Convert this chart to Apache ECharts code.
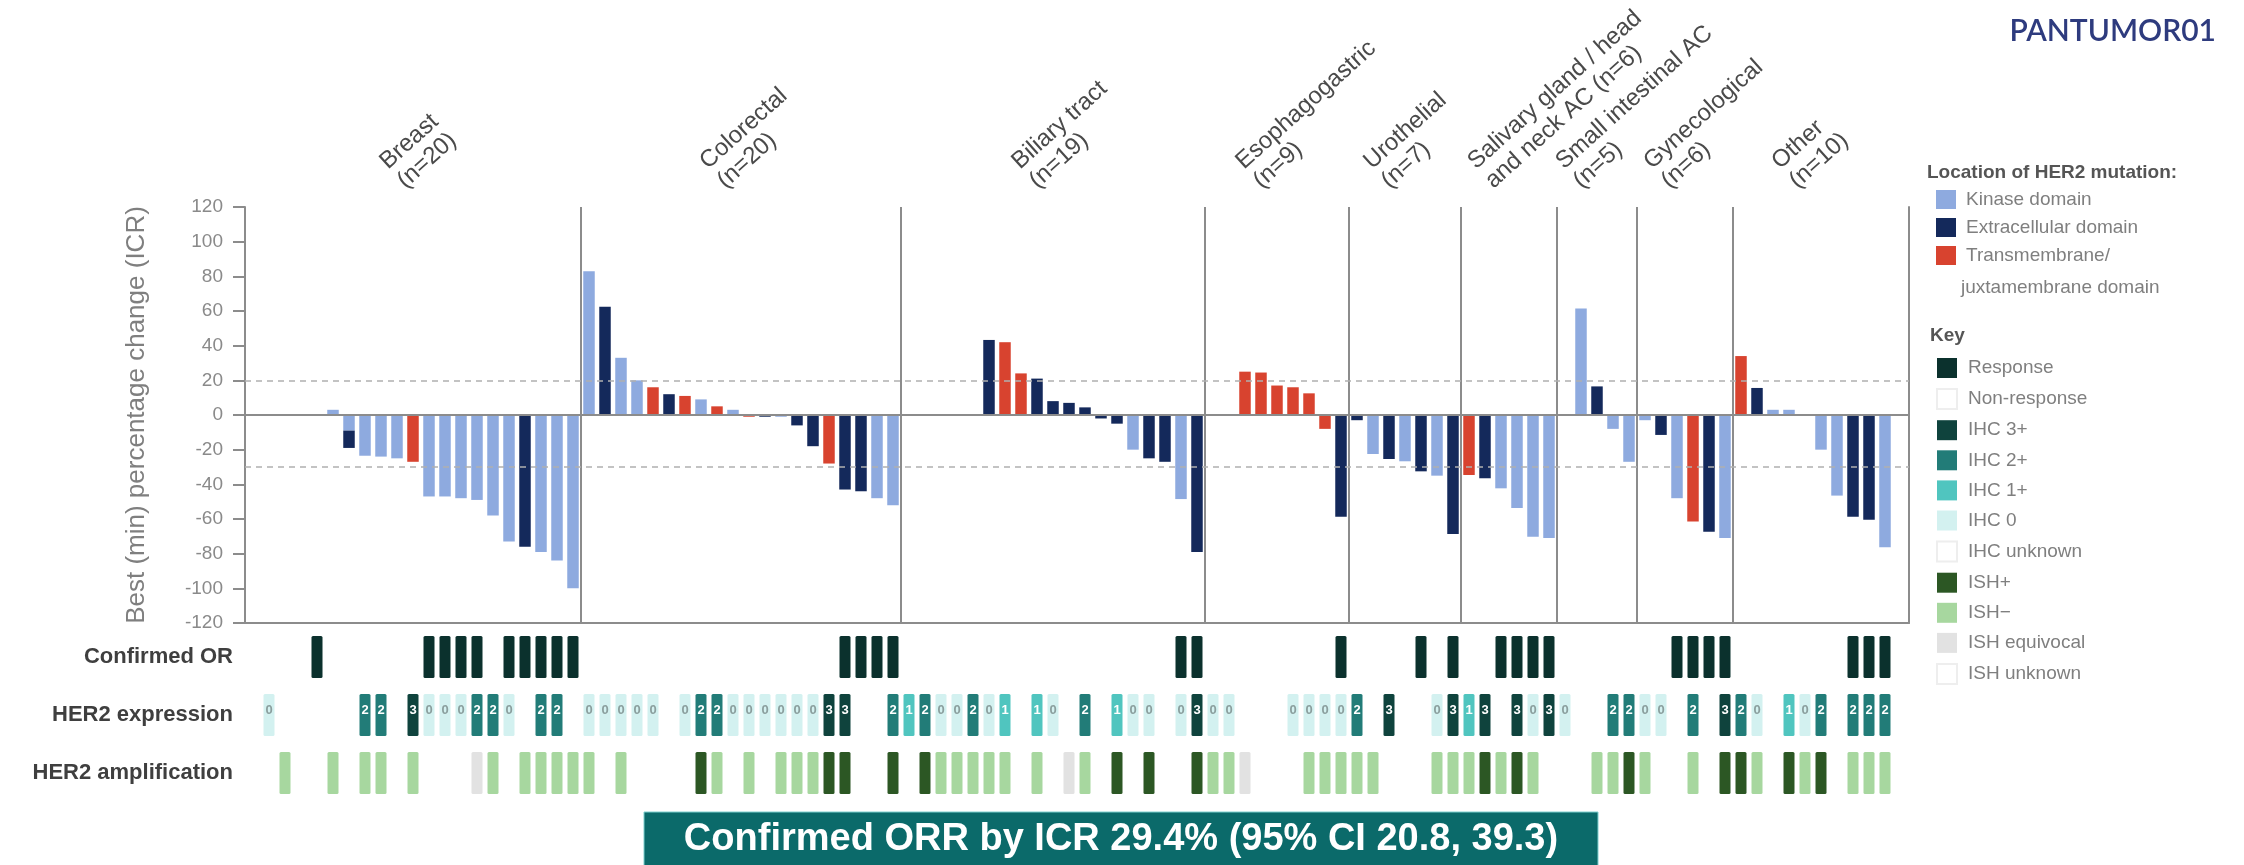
<!DOCTYPE html>
<html>
<head>
<meta charset="utf-8">
<script src="https://cdn.jsdelivr.net/npm/echarts@6/dist/echarts.min.js"></script>
<style>
  html, body { margin: 0; padding: 0; background: #ffffff; }
  #chart { width: 2244px; height: 865px; }
</style>
</head>
<body>
<div id="chart"></div>
<script>
const _ = null;

// Tumour groups, in display order
const groupNames = ['Breast', 'Colorectal', 'Biliary tract', 'Esophagogastric', 'Urothelial',
  'Salivary gland / head\nand neck AC', 'Small intestinal AC', 'Gynecological', 'Other'];
const groupSizes = [20, 20, 19, 9, 7, 6, 5, 6, 10];

// Best (min) percentage change from baseline, split by location of the HER2 mutation
const kinase = [
  _, _, _, _, 3, -9, -23.5, -24, -25, _, -47, -47, -48, -49, -58, -73, _, -79, -84, -100,   // Breast
  83, _, 33, 20, _, _, _, 9, _, 3, _, _, -1, _, _, _, _, _, -48, -52,                         // Colorectal
  _, _, _, _, _, _, _, _, _, _, _, _, _, _, -20, _, _, -48.5, _,                               // Biliary tract
  _, _, _, _, _, _, _, _, _,                                                                    // Esophagogastric
  _, -22.5, _, -26.7, _, -35, _,                                                                // Urothelial
  _, _, -42.3, -53.7, -70.2, -71,                                                               // Salivary gland / H&N
  _, 61.5, _, -8, -27,                                                                          // Small intestinal
  -3, _, -48, _, _, -71,                                                                        // Gynecological
  _, _, 3, 3, _, -20, -46.5, _, _, -76.3                                                        // Other
];
const extracellular = [
  _, _, _, _, _, -10, _, _, _, _, _, _, _, _, _, _, -76, _, _, _,
  _, 62.5, _, _, _, 12, _, _, _, _, _, -1, _, -6, -18, _, -43, -44, _, _,
  _, _, _, _, _, 43.3, _, _, 21, 8, 7, 4.4, -2, -5, _, -25, -27, _, -79,
  _, _, _, _, _, _, _, _, -58.7,
  -3, _, -25.4, _, -32.5, _, -68.7,
  _, -36.5, _, _, _, _,
  _, _, 16.5, _, _,
  _, -11.5, _, _, -67.3, _,
  _, 15.6, _, _, _, _, _, -58.7, -60.4, _
];
const transmembrane = [
  _, _, _, _, _, _, _, _, _, -27, _, _, _, _, _, _, _, _, _, _,
  _, _, _, _, 16, _, 11, _, 5, _, -1, _, _, _, _, -28, _, _, _, _,
  _, _, _, _, _, _, 42, 24, _, _, _, _, _, _, _, _, _, _, _,
  _, _, 25, 24.5, 17, 16, 12.5, -8, _,
  _, _, _, _, _, _, _,
  -34.6, _, _, _, _, _,
  _, _, _, _, _,
  _, _, _, -61.5, _, _,
  34, _, _, _, _, _, _, _, _, _
];

// Confirmed objective response (1 = response, 0 = non-response)
const confirmedOR = [
  0, 0, 0, 1, 0, 0, 0, 0, 0, 0, 1, 1, 1, 1, 0, 1, 1, 1, 1, 1,
  0, 0, 0, 0, 0, 0, 0, 0, 0, 0, 0, 0, 0, 0, 0, 0, 1, 1, 1, 1,
  0, 0, 0, 0, 0, 0, 0, 0, 0, 0, 0, 0, 0, 0, 0, 0, 0, 1, 1,
  0, 0, 0, 0, 0, 0, 0, 0, 1,
  0, 0, 0, 0, 1, 0, 1,
  0, 0, 1, 1, 1, 1,
  0, 0, 0, 0, 0,
  0, 0, 1, 1, 1, 1,
  0, 0, 0, 0, 0, 0, 0, 1, 1, 1
];
// HER2 IHC score (null = unknown)
const ihcScore = [
  0, _, _, _, _, _, 2, 2, _, 3, 0, 0, 0, 2, 2, 0, _, 2, 2, _,
  0, 0, 0, 0, 0, _, 0, 2, 2, 0, 0, 0, 0, 0, 0, 3, 3, _, _, 2,
  1, 2, 0, 0, 2, 0, 1, _, 1, 0, _, 2, _, 1, 0, 0, _, 0, 3,
  0, 0, _, _, _, 0, 0, 0, 0,
  2, _, 3, _, _, 0, 3,
  1, 3, _, 3, 0, 3,
  0, _, _, 2, 2,
  0, 0, _, 2, _, 3,
  2, 0, _, 1, 0, 2, _, 2, 2, 2
];
// HER2 ISH result ('+', '-', 'eq' = equivocal, null = unknown)
const ishResult = [
  _, '-', _, _, '-', _, '-', '-', _, '-', _, _, _, 'eq', '-', _, '-', '-', '-', '-',
  '-', _, '-', _, _, _, _, '+', '-', _, '-', _, '-', '-', '-', '+', '+', _, _, '+',
  _, '+', '-', '-', '-', '-', '-', _, '-', _, 'eq', '-', _, '+', _, '+', _, _, '+',
  '-', '-', 'eq', _, _, _, '-', '-', '-',
  '-', '-', _, _, _, '-', '-',
  '-', '+', '-', '+', '-', _,
  _, _, '-', '-', '+',
  '-', _, _, '-', _, '+',
  '+', '-', _, '+', '-', '+', _, '-', '-', '-'
];

const tileRows = ['Confirmed OR', 'HER2 expression', 'HER2 amplification'];
const thresholds = [20, -30];
const orrCI = [20.8, 39.3];

const Y_MIN = -120, Y_MAX = 120, Y_STEP = 20;

const FONT = '"Liberation Sans", Arial, sans-serif';
const AXIS_GREY = '#8c8c8c';
const COL_KINASE = '#8eaadf';
const COL_EXTRA = '#14295b';
const COL_TRANS = '#d8432f';

// one empty slot on each side of the patients
const PAD = 1;
const N = groupSizes.reduce((a, b) => a + b, 0);
const SLOTS = N + 2 * PAD;
const slotNames = Array.from({ length: SLOTS }, (v, i) => 'pt' + i);
const padded = arr => [null, ...arr, null];

const groupStarts = [];
groupSizes.reduce((acc, n) => { groupStarts.push(acc); return acc + n; }, PAD);
const dividerData = groupStarts.slice(1).map(s => [s, 0]);
const labelData = groupStarts.map((s, g) => [s + groupSizes[g] / 2, Y_MAX]);
const groupLabelLines = groupNames.map((name, g) => {
  const parts = name.split('\n');
  const nText = '(n=' + groupSizes[g] + ')';
  return parts.length > 1 ? [parts[0], parts[1] + ' ' + nText] : [parts[0], nText];
});

const responses = confirmedOR.reduce((a, b) => a + b, 0);
const orr = (100 * responses / N).toFixed(1);

// tile categories for the three annotation rows
const keyItems = [
  { name: 'Response',      row: 0, color: '#0b312d', test: p => confirmedOR[p] === 1 },
  { name: 'Non-response',  row: 0, color: '#ffffff', test: p => confirmedOR[p] === 0 },
  { name: 'IHC 3+',        row: 1, color: '#0f433d', test: p => ihcScore[p] === 3, digit: '#ffffff' },
  { name: 'IHC 2+',        row: 1, color: '#227c78', test: p => ihcScore[p] === 2, digit: '#ffffff' },
  { name: 'IHC 1+',        row: 1, color: '#50c5bf', test: p => ihcScore[p] === 1, digit: '#ffffff' },
  { name: 'IHC 0',         row: 1, color: '#d3f1f0', test: p => ihcScore[p] === 0, digit: '#8a9e9d' },
  { name: 'IHC unknown',   row: 1, color: '#ffffff', test: p => ihcScore[p] === null },
  { name: 'ISH+',          row: 2, color: '#2c5724', test: p => ishResult[p] === '+' },
  { name: 'ISH\u2212',     row: 2, color: '#a7d79f', test: p => ishResult[p] === '-' },
  { name: 'ISH equivocal', row: 2, color: '#e2e2e2', test: p => ishResult[p] === 'eq' },
  { name: 'ISH unknown',   row: 2, color: '#ffffff', test: p => ishResult[p] === null }
];

const TILE_W = 11, TILE_H = 42;
const BAR_W = 11.5;
const LABEL_ANGLE = 42, LABEL_DX = -12, LABEL_DY = -14, LABEL_LH = 26, LABEL_FONT = 24;

function tileSeries(item) {
  const data = [];
  for (let p = 0; p < N; p++) {
    if (item.test(p)) data.push([p + PAD, item.row, item.row === 1 ? ihcScore[p] : 0]);
  }
  const white = item.color === '#ffffff';
  return {
    name: item.name,
    type: 'custom',
    xAxisIndex: 2, yAxisIndex: 2,
    silent: true,
    itemStyle: { color: item.color, borderColor: white ? '#eeeeee' : item.color, borderWidth: white ? 1 : 0 },
    data,
    renderItem(params, api) {
      const c = api.coord([api.value(0), api.value(1)]);
      const children = [{
        type: 'rect',
        shape: { x: c[0] - TILE_W / 2, y: c[1] - TILE_H / 2, width: TILE_W, height: TILE_H, r: 1.5 },
        style: { fill: item.color }
      }];
      if (item.digit) {
        children.push({
          type: 'text', x: c[0], y: c[1] - 5,
          style: { text: String(api.value(2)), fill: item.digit, font: 'bold 13px ' + FONT,
                   align: 'center', verticalAlign: 'middle' }
        });
      }
      return { type: 'group', children };
    }
  };
}

const barBase = {
  type: 'bar', stack: 'change', barWidth: BAR_W,
  xAxisIndex: 0, yAxisIndex: 0, silent: true
};

const option = {
  animation: false,
  backgroundColor: '#ffffff',
  textStyle: { fontFamily: FONT },
  grid: [
    { left: 245, top: 207, width: 1664, height: 416, containLabel: false, outerBoundsMode: 'none' },
    { left: 245, top: 628, width: 1664, height: 174, containLabel: false, outerBoundsMode: 'none' }
  ],
  xAxis: [
    { type: 'category', gridIndex: 0, data: slotNames, boundaryGap: true,
      axisLine: { show: true, onZero: false, lineStyle: { color: AXIS_GREY, width: 2 } },
      axisTick: { show: false }, axisLabel: { show: false }, splitLine: { show: false } },
    { type: 'value', gridIndex: 0, min: 0, max: SLOTS, show: false },
    { type: 'category', gridIndex: 1, data: slotNames, boundaryGap: true, show: false }
  ],
  yAxis: [
    { type: 'value', gridIndex: 0, min: Y_MIN, max: Y_MAX, interval: Y_STEP,
      name: 'Best (min) percentage change (ICR)', nameLocation: 'middle', nameGap: 95,
      nameTextStyle: { color: '#7f7f7f', fontSize: 26 },
      axisLine: { show: true, lineStyle: { color: AXIS_GREY, width: 2 } },
      axisTick: { show: true, length: 12, lineStyle: { color: AXIS_GREY, width: 2 } },
      axisLabel: { color: '#8a8a8a', fontSize: 19, margin: 22 },
      splitLine: { show: false } },
    { type: 'value', gridIndex: 0, min: Y_MIN, max: Y_MAX, position: 'right',
      axisLine: { show: true, lineStyle: { color: AXIS_GREY, width: 2 } },
      axisTick: { show: false }, axisLabel: { show: false }, splitLine: { show: false } },
    { type: 'category', gridIndex: 1, data: tileRows, inverse: true,
      axisLine: { show: false }, axisTick: { show: false }, splitLine: { show: false },
      axisLabel: { color: '#3f3f3f', fontSize: 22, fontWeight: 'bold', margin: 12 } }
  ],
  legend: [
    { orient: 'vertical', left: 1931, top: 185, itemWidth: 20, itemHeight: 19, itemGap: 9,
      icon: 'rect', selectedMode: false,
      textStyle: { color: '#7f7f7f', fontSize: 19, padding: [0, 0, 0, 5] },
      formatter: name => name.startsWith('Transmembrane') ? 'Transmembrane/' : name,
      data: ['Kinase domain', 'Extracellular domain', 'Transmembrane/juxtamembrane domain'] },
    { orient: 'vertical', left: 1931, top: 353, itemWidth: 20, itemHeight: 20, itemGap: 10.1,
      icon: 'rect', selectedMode: false,
      textStyle: { color: '#7f7f7f', fontSize: 19, padding: [0, 0, 0, 6] },
      data: keyItems.map(k => k.name) }
  ],
  graphic: [
    { type: 'text', left: 1927, top: 163,
      style: { text: 'Location of HER2 mutation:', fill: '#555555', font: 'bold 19px ' + FONT } },
    { type: 'text', x: 1961, y: 288,
      style: { text: 'juxtamembrane domain', fill: '#7f7f7f', font: '19px ' + FONT, verticalAlign: 'middle' } },
    { type: 'text', left: 1930, top: 326,
      style: { text: 'Key', fill: '#555555', font: 'bold 19px ' + FONT } },
    { type: 'text', x: 2216, y: 31,
      style: { text: 'PANTUMOR01', fill: '#2e3b7e', font: '600 30px Lato, ' + FONT,
               align: 'right', verticalAlign: 'middle' } },
    { type: 'rect', shape: { x: 644, y: 812, width: 954, height: 60 },
      style: { fill: '#0b6a6a', stroke: '#7fd0cf', lineWidth: 1 } },
    { type: 'text', x: 1121, y: 840,
      style: { text: 'Confirmed ORR by ICR ' + orr + '% (95% CI ' + orrCI[0] + ', ' + orrCI[1] + ')',
               fill: '#ffffff', font: 'bold 38px ' + FONT, align: 'center', verticalAlign: 'middle' } }
  ],
  series: [
    Object.assign({}, barBase, {
      name: 'Kinase domain', data: padded(kinase), itemStyle: { color: COL_KINASE },
      markLine: {
        silent: true, symbol: 'none', label: { show: false }, animation: false,
        data: [
          { yAxis: 0, lineStyle: { color: AXIS_GREY, width: 2, type: 'solid' } },
          ...thresholds.map(t => ({ yAxis: t, lineStyle: { color: '#b0b0b0', width: 1.5, type: [6, 5] } }))
        ]
      }
    }),
    Object.assign({}, barBase, { name: 'Extracellular domain', data: padded(extracellular), itemStyle: { color: COL_EXTRA } }),
    Object.assign({}, barBase, { name: 'Transmembrane/juxtamembrane domain', data: padded(transmembrane), itemStyle: { color: COL_TRANS } }),
    {
      name: 'dividers', type: 'custom', xAxisIndex: 1, yAxisIndex: 0, silent: true, z: 1,
      data: dividerData,
      renderItem(params, api) {
        const top = api.coord([api.value(0), Y_MAX]);
        const bot = api.coord([api.value(0), Y_MIN]);
        return { type: 'line', shape: { x1: top[0], y1: top[1], x2: bot[0], y2: bot[1] },
                 style: { stroke: AXIS_GREY, lineWidth: 2 } };
      }
    },
    {
      name: 'group labels', type: 'custom', xAxisIndex: 1, yAxisIndex: 0, silent: true,
      data: labelData,
      renderItem(params, api) {
        const p = api.coord([api.value(0), api.value(1)]);
        const lines = groupLabelLines[params.dataIndex];
        const st = { fill: '#4a4a4a', font: LABEL_FONT + 'px ' + FONT, align: 'left', verticalAlign: 'bottom' };
        return {
          type: 'group', x: p[0] + LABEL_DX, y: p[1] + LABEL_DY, rotation: LABEL_ANGLE * Math.PI / 180,
          children: [
            { type: 'text', x: 0, y: -LABEL_LH, style: Object.assign({ text: lines[0] }, st) },
            { type: 'text', x: 0, y: 0, style: Object.assign({ text: lines[1] }, st) }
          ]
        };
      }
    },
    ...keyItems.map(tileSeries)
  ]
};

const chart = echarts.init(document.getElementById('chart'), null, { renderer: 'canvas', width: 2244, height: 865 });
chart.setOption(option);
</script>
</body>
</html>
